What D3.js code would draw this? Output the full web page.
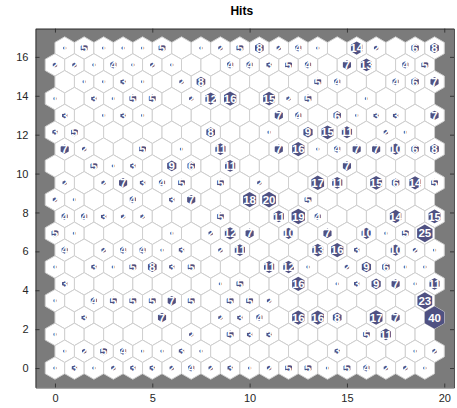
<!DOCTYPE html>
<html>
<head>
<meta charset="utf-8">
<script src="https://cdn.jsdelivr.net/npm/d3@7/dist/d3.min.js"></script>
<style>
  body { margin: 0; background: #fff; }
  svg text { font-family: "Liberation Sans", Arial, sans-serif; }
</style>
</head>
<body>
<div id="chart"></div>
<script>
// SOM hits, 20x20 hex grid. rows listed top (row 19) to bottom (row 0)
var chartTitle = "Hits";
var xTicks = [0, 5, 10, 15, 20];
var yTicks = [0, 2, 4, 6, 8, 10, 12, 14, 16];
var hitRows = [
  [1,5,1,1,1,5,0,1,2,5,8,2,4,1,0,14,2,0,6,8],
  [2,2,1,4,1,2,1,0,0,4,4,3,5,4,0,7,13,0,4,5],
  [0,1,1,3,1,0,2,8,0,0,0,0,0,5,4,0,0,4,6,7],
  [1,0,3,1,5,5,0,2,12,16,0,15,2,5,0,0,1,0,0,0],
  [3,0,1,3,1,0,0,0,0,0,0,7,4,0,6,1,3,3,0,7],
  [3,5,0,0,0,0,0,0,8,0,0,1,0,9,15,11,0,2,1,0],
  [7,2,0,0,5,0,1,0,11,0,0,7,16,1,4,7,7,10,6,8],
  [0,0,5,1,3,0,9,6,0,11,0,0,0,0,0,7,0,0,0,0],
  [2,0,2,7,3,4,5,0,5,0,2,0,0,17,11,0,15,6,14,5],
  [2,1,0,0,4,0,3,7,0,0,18,20,0,5,0,0,0,0,0,0],
  [4,4,3,2,2,0,0,0,5,0,0,11,19,4,0,0,0,14,0,15],
  [5,1,0,0,0,0,1,0,2,12,7,0,10,0,7,0,10,1,5,25],
  [4,0,2,4,4,1,3,0,2,11,0,0,0,13,16,3,0,10,2,1],
  [1,0,3,1,5,8,3,5,0,0,0,11,12,1,0,2,9,6,1,1],
  [3,0,0,0,0,0,0,0,1,5,0,0,16,0,1,3,9,7,1,11],
  [1,0,4,5,5,5,7,5,0,5,5,2,0,0,0,0,0,0,0,23],
  [0,3,0,0,0,7,0,0,2,3,4,0,16,16,8,0,17,7,0,40],
  [1,0,0,0,0,0,0,2,0,5,3,3,0,0,0,0,5,11,0,0],
  [1,2,5,4,1,1,3,1,0,0,0,0,0,0,3,0,0,0,1,2],
  [1,3,1,2,3,3,2,4,2,3,1,2,5,5,1,5,4,2,2,1]
];

var W = 457, H = 408;
var nRows = hitRows.length, nCols = hitRows[0].length;
var dy = Math.sqrt(0.75);

// neuron positions like hextop
var cells = [];
hitRows.forEach(function(row, k){
  var r = nRows - 1 - k;
  row.forEach(function(h, c){
    cells.push({ x: c + (r % 2 ? 0.5 : 0), y: r * dy, hits: h });
  });
});
var maxHits = d3.max(cells, d => d.hits);

var x = d3.scaleLinear().domain([-1, (nCols - 1) + 0.5 + 1]).range([35.5, 454]);
var y = d3.scaleLinear().domain([-1, (nRows - 1) * dy + 1]).range([387.5, 28.6]);

var shapex = [-0.5, 0, 0.5, 0.5, 0, -0.5];
var shapey = [1, 2, 1, -1, -2, -1].map(v => v * dy / 3);

function hexPath(d, s){
  var pts = shapex.map((sx, i) => [x(d.x + sx * s), y(d.y + shapey[i] * s)]);
  return "M" + pts.join("L") + "Z";
}

var svg = d3.select("#chart").append("svg")
  .attr("width", W).attr("height", H);

// axes background
svg.append("rect")
  .attr("x", x.range()[0]).attr("y", y.range()[1])
  .attr("width", x.range()[1] - x.range()[0])
  .attr("height", y.range()[0] - y.range()[1])
  .attr("fill", "#7b7b7b");

var gCells = svg.append("g").attr("class", "cells");
gCells.selectAll("path.bg")
  .data(cells).enter().append("path")
  .attr("class", "bg")
  .attr("d", d => hexPath(d, 1))
  .attr("fill", "#fff")
  .attr("stroke", "#cfcfcf")
  .attr("stroke-width", 1);

var gHits = svg.append("g").attr("class", "hits");
gHits.selectAll("path")
  .data(cells.filter(d => d.hits > 0)).enter().append("path")
  .attr("d", d => hexPath(d, Math.sqrt(d.hits / maxHits)))
  .attr("fill", "#4f5182");

gHits.selectAll("text")
  .data(cells.filter(d => d.hits > 0)).enter().append("text")
  .attr("x", d => x(d.x))
  .attr("y", d => y(d.y))
  .attr("dy", "0.36em")
  .attr("text-anchor", "middle")
  .attr("font-size", 11.5)
  .attr("font-weight", "bold")
  .attr("fill", "#fff")
  .text(d => d.hits);

// axes, ticks inward like matlab
var axColor = "#262626";
var gx = svg.append("g").attr("transform", "translate(0," + y.range()[0] + ")")
  .call(d3.axisBottom(x).tickValues(xTicks).tickSizeInner(-4).tickSizeOuter(0).tickPadding(7));
var gxTop = svg.append("g").attr("transform", "translate(0," + y.range()[1] + ")")
  .call(d3.axisTop(x).tickValues(xTicks).tickSizeInner(-4).tickSizeOuter(0).tickFormat(""));
var gy = svg.append("g").attr("transform", "translate(" + x.range()[0] + ",0)")
  .call(d3.axisLeft(y).tickValues(yTicks).tickSizeInner(-4).tickSizeOuter(0).tickPadding(7));
var gyRight = svg.append("g").attr("transform", "translate(" + x.range()[1] + ",0)")
  .call(d3.axisRight(y).tickValues(yTicks).tickSizeInner(-4).tickSizeOuter(0).tickFormat(""));

[gx, gxTop, gy, gyRight].forEach(function(g){
  g.selectAll(".domain").attr("stroke", axColor).attr("stroke-width", 0.8);
  g.selectAll(".tick line").attr("stroke", axColor).attr("stroke-width", 0.8);
  g.selectAll(".tick text").attr("fill", axColor).attr("font-size", 11)
    .attr("font-family", "Liberation Sans, Arial, sans-serif");
});

svg.append("text")
  .attr("x", (x.range()[0] + x.range()[1]) / 2 - 3)
  .attr("y", 15)
  .attr("text-anchor", "middle")
  .attr("font-size", 12)
  .attr("font-weight", "bold")
  .attr("fill", "#000")
  .text(chartTitle);
</script>
</body>
</html>
